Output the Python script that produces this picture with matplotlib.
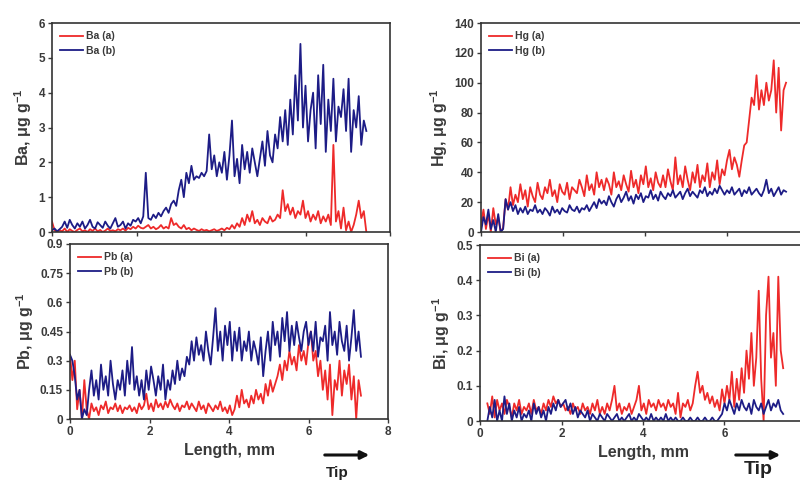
import numpy as np
import matplotlib
matplotlib.use("Agg")
import matplotlib.pyplot as plt

plt.rcParams['font.family'] = ['Liberation Sans', 'DejaVu Sans']
plt.rcParams['font.weight'] = 'bold'
plt.rcParams['axes.labelweight'] = 'bold'
plt.rcParams['mathtext.fontset'] = 'custom'
plt.rcParams['mathtext.rm'] = 'Liberation Sans:bold'
plt.rcParams['mathtext.it'] = 'Liberation Sans:bold'
plt.rcParams['mathtext.bf'] = 'Liberation Sans:bold'

nan = np.nan
# sampling positions along the sample, mm
length = np.round(np.arange(125) * 0.06, 2)

ba_a = [0.3, 0.05, 0.0, 0.05, 0.02, 0.1, 0.0, 0.08, 0.03, 0.0, 0.06, 0.1, 0.02, 0.05, 0.0, 0.08, 0.03, 0.1, 0.02, 0.06, 0.0, 0.04, 0.1, 0.03, 0.05,
        0.02, 0.08, 0.05, 0.1, 0.04, 0.12, 0.08, 0.15, 0.1, 0.18, 0.12, 0.1, 0.15, 0.2, 0.1, 0.15, 0.08, 0.12, 0.2, 0.1, 0.15, 0.1, 0.4, 0.2, 0.25,
        0.15, 0.1, 0.2, 0.08, 0.12, 0.05, 0.1, 0.06, 0.03, 0.08, 0.04, 0.06, 0.02, 0.05, 0.08, 0.03, 0.06, 0.1, 0.05, 0.12, 0.08, 0.2, 0.1, 0.25, 0.15,
        0.4, 0.2, 0.5, 0.3, 0.6, 0.25, 0.35, 0.2, 0.4, 0.3, 0.25, 0.45, 0.3, 0.35, 0.5, 0.4, 1.2, 0.6, 0.8, 0.5, 0.7, 0.4, 0.6, 0.5, 0.9,
        0.4, 0.6, 0.3, 0.5, 0.35, 0.6, 0.25, 0.45, 0.3, 0.5, 0.2, 2.5, 0.3, 0.6, 0.1, 0.7, 0.05, 0.3, 0.0, 0.2, 0.5, 0.9, 0.4, 0.6, 0.0]
ba_b = [0.05, 0.1, 0.02, 0.08, 0.15, 0.3, 0.12, 0.35, 0.2, 0.1, 0.25, 0.15, 0.3, 0.1, 0.2, 0.35, 0.15, 0.1, 0.28, 0.2, 0.12, 0.3, 0.18, 0.1, 0.25,
        0.4, 0.15, 0.2, 0.3, 0.1, 0.25, 0.18, 0.35, 0.3, 0.4, 0.25, 0.45, 1.7, 0.4, 0.35, 0.5, 0.4, 0.55, 0.45, 0.6, 0.7, 0.55, 0.8, 0.9, 0.75,
        1.2, 1.5, 1.0, 1.7, 1.4, 1.9, 1.5, 1.6, 1.55, 1.7, 1.6, 1.75, 2.8, 1.8, 2.2, 1.6, 2.0, 1.7, 2.3, 1.5, 2.2, 3.2, 1.6, 2.1, 1.4,
        2.5, 1.8, 2.3, 1.7, 2.4, 2.0, 1.6, 2.1, 2.6, 1.9, 2.9, 2.2, 2.0, 2.8, 2.4, 3.3, 2.6, 3.5, 2.5, 3.8, 2.8, 4.5, 3.2, 5.4, 3.0,
        4.2, 2.6, 3.5, 4.0, 2.4, 4.5, 3.1, 4.8, 2.3, 3.8, 2.9, 4.4, 2.6, 3.6, 3.3, 4.1, 2.9, 4.4, 2.3, 3.5, 3.0, 3.9, 2.5, 3.2, 2.9]

pb_a = [0.33, 0.2, 0.3, 0.05, 0.15, 0.0, 0.2, 0.05, 0.0, 0.08, 0.04, 0.06, 0.02, 0.07, 0.05, 0.09, 0.03, 0.06, 0.05, 0.08, 0.04, 0.07, 0.03, 0.06, 0.05,
        0.07, 0.04, 0.06, 0.03, 0.08, 0.05, 0.07, 0.13, 0.05, 0.08, 0.04, 0.1, 0.06, 0.08, 0.05, 0.09, 0.06, 0.1, 0.07, 0.05, 0.08, 0.04, 0.07, 0.06, 0.09,
        0.05, 0.08, 0.06, 0.04, 0.09, 0.05, 0.07, 0.03, 0.08, 0.06, 0.04, 0.07, 0.05, 0.09, 0.04, 0.06, 0.03, 0.07, 0.02, 0.05, 0.12, 0.06, 0.15, 0.08, 0.1,
        0.06, 0.12, 0.08, 0.15, 0.1, 0.13, 0.08, 0.18, 0.12, 0.2, 0.14, 0.18, 0.22, 0.28, 0.2, 0.3, 0.25, 0.35, 0.28, 0.32, 0.25, 0.38, 0.3, 0.35, 0.28,
        0.4, 0.45, 0.3, 0.35, 0.22, 0.3, 0.15, 0.25, 0.1, 0.28, 0.02, 0.2, 0.15, 0.3, 0.12, 0.25, 0.18, 0.28, 0.1, 0.22, 0.0, 0.2, 0.12, nan, nan]
pb_b = [0.33, 0.3, 0.22, 0.1, 0.15, 0.0, 0.05, 0.02, 0.15, 0.25, 0.12, 0.2, 0.1, 0.28, 0.15, 0.22, 0.12, 0.3, 0.18, 0.1, 0.2, 0.15, 0.25, 0.12, 0.3,
        0.18, 0.37, 0.15, 0.22, 0.12, 0.2, 0.1, 0.25, 0.15, 0.27, 0.2, 0.12, 0.22, 0.15, 0.28, 0.1, 0.2, 0.15, 0.25, 0.18, 0.3, 0.2, 0.26, 0.22, 0.32,
        0.28, 0.4, 0.3, 0.42, 0.33, 0.38, 0.3, 0.45, 0.35, 0.28, 0.42, 0.57, 0.35, 0.45, 0.3, 0.48, 0.38, 0.5, 0.3, 0.45, 0.35, 0.47, 0.3, 0.4, 0.35,
        0.45, 0.3, 0.4, 0.35, 0.28, 0.42, 0.22, 0.35, 0.45, 0.3, 0.5, 0.38, 0.45, 0.32, 0.52, 0.4, 0.55, 0.35, 0.48, 0.38, 0.5, 0.42, 0.35, 0.45, 0.5,
        0.38, 0.45, 0.35, 0.5, 0.32, 0.42, 0.4, 0.48, 0.3, 0.55, 0.38, 0.45, 0.33, 0.5, 0.4, 0.35, 0.48, 0.3, 0.42, 0.56, 0.35, 0.45, 0.32, nan, nan]

hg_a = [5, 15, 2, 12, 0, 16, 5, 10, 0, 3, 22, 15, 30, 18, 25, 20, 32, 22, 28, 17, 30, 24, 20, 33, 25,
        22, 30, 26, 35, 24, 28, 20, 32, 27, 25, 33, 22, 30, 28, 26, 35, 30, 24, 38, 28, 32, 25, 40, 30, 35,
        28, 36, 32, 25, 40, 30, 34, 28, 38, 32, 27, 41, 30, 35, 26, 38, 32, 44, 30, 36, 28, 40, 33, 30, 38,
        30, 42, 34, 28, 50, 32, 38, 30, 44, 35, 28, 40, 33, 45, 30, 38, 34, 46, 30, 40, 35, 48, 32, 42, 38,
        48, 55, 42, 50, 45, 37, 48, 58, 60, 75, 90, 85, 105, 82, 95, 85, 100, 88, 95, 115, 80, 110, 68, 95, 100]
hg_b = [0, 10, 5, 15, 2, 8, 0, 12, 0, 2, 22, 15, 20, 14, 18, 12, 16, 13, 17, 12, 15, 14, 18, 13, 15,
        12, 16, 14, 11, 17, 13, 15, 12, 16, 14, 13, 18, 15, 14, 17, 13, 16, 15, 18, 14, 17, 20, 16, 22, 19,
        21, 18, 24, 20, 17, 22, 25, 20, 23, 27, 21, 24, 19, 25, 22, 26, 20, 24, 23, 28, 22, 25, 21, 27, 24,
        22, 26, 24, 28, 23, 25, 27, 22, 26, 29, 24, 27, 25, 23, 28, 26, 30, 24, 27, 25, 29, 26, 31, 28, 25,
        28, 26, 30, 25, 27, 29, 24, 28, 26, 30, 25, 27, 29, 26, 24, 28, 35, 26, 29, 24, 27, 30, 25, 28, 27]

bi_a = [nan, nan, nan, 0.05, 0.02, 0.07, 0.01, 0.06, 0.03, 0.05, 0.02, 0.06, 0.04, 0.01, 0.05, 0.03, 0.06, 0.02, 0.04, 0.03, 0.05, 0.02, 0.06, 0.03, 0.04,
        0.02, 0.05, 0.03, 0.06, 0.04, 0.07, 0.05, 0.06, 0.04, 0.05, 0.03, 0.04, 0.02, 0.05, 0.03, 0.04, 0.02, 0.05, 0.03, 0.04, 0.02, 0.05, 0.03, 0.06, 0.02,
        0.04, 0.02, 0.05, 0.03, 0.06, 0.1, 0.03, 0.05, 0.02, 0.04, 0.03, 0.05, 0.02, 0.04, 0.06, 0.1, 0.03, 0.05, 0.02, 0.06, 0.04, 0.05, 0.03, 0.06, 0.04,
        0.05, 0.03, 0.06, 0.04, 0.05, 0.02, 0.08, 0.01, 0.05, 0.04, 0.06, 0.03, 0.05, 0.1, 0.14, 0.08, 0.1, 0.06, 0.08, 0.05, 0.07, 0.04, 0.06, 0.03, 0.09,
        0.05, 0.1, 0.06, 0.14, 0.04, 0.12, 0.06, 0.15, 0.08, 0.2, 0.12, 0.25, 0.1, 0.18, 0.37, 0.12, 0.0, 0.3, 0.41, 0.18, 0.25, 0.1, 0.41, 0.2, 0.15]
bi_b = [nan, nan, nan, 0.0, 0.04, 0.01, 0.06, 0.0, 0.03, 0.0, 0.07, 0.02, 0.05, 0.0, 0.03, 0.01, 0.04, 0.0, 0.02, 0.01, 0.03, 0.0, 0.05, 0.02, 0.04,
        0.01, 0.03, 0.0, 0.04, 0.02, 0.05, 0.03, 0.06, 0.04, 0.05, 0.06, 0.03, 0.05, 0.02, 0.04, 0.01, 0.03, 0.02, 0.01, 0.03, 0.0, 0.02, 0.01, 0.0, 0.02,
        0.01, 0.0, 0.02, 0.01, 0.0, 0.01, 0.02, 0.0, 0.01, 0.0, 0.01, 0.02, 0.0, 0.01, 0.0, 0.02, 0.01, 0.0, 0.01, 0.0, 0.02, 0.0, 0.01, 0.0, 0.01,
        0.0, 0.02, 0.0, 0.01, 0.0, 0.01, 0.0, 0.0, 0.01, 0.0, 0.0, 0.01, 0.0, 0.0, 0.01, 0.0, 0.0, 0.01, 0.0, 0.0, 0.01, 0.0, 0.0, 0.01, 0.02,
        0.05, 0.03, 0.06, 0.04, 0.02, 0.05, 0.03, 0.06, 0.04, 0.03, 0.05, 0.02, 0.06, 0.04, 0.03, 0.05, 0.02, 0.04, 0.06, 0.03, 0.05, 0.04, 0.06, 0.03, 0.02]

ba_ticks = [0, 1, 2, 3, 4, 5, 6]
pb_ticks = [0, 0.15, 0.3, 0.45, 0.6, 0.75, 0.9]
pb_labels = ['0', '0.15', '0.3', '0.45', '0.6', '0.75', '0.9']
hg_ticks = [0, 20, 40, 60, 80, 100, 120, 140]
bi_ticks = [0, 0.1, 0.2, 0.3, 0.4, 0.5]
bi_labels = ['0', '0.1', '0.2', '0.3', '0.4', '0.5']
x_ticks = [0, 2, 4, 6, 8]
x_labels_left = ['0', '2', '4', '6', '8']
x_labels_right = ['0', '2', '4', '6', '']

RED = '#ee2a2a'
NAVY = '#1d1c86'
TXT = '#3a3a3a'

W, H = 800, 482
fig = plt.figure(figsize=(8.0, 4.82), dpi=100)


def box(l, t, r, b):
    # pixel box -> figure fraction rect
    return [l / W, 1 - b / H, (r - l) / W, (b - t) / H]


panels = [
    # name, box, series a, series b, ylim, ticks, labels, x labels (None = top row)
    ('Ba', box(52, 23, 390, 232), ba_a, ba_b, 6, ba_ticks, None, None),
    ('Pb', box(70, 244, 388, 419), pb_a, pb_b, 0.9, pb_ticks, pb_labels, x_labels_left),
    ('Hg', box(481, 23, 809, 232), hg_a, hg_b, 140, hg_ticks, None, None),
    ('Bi', box(480, 245, 806, 421), bi_a, bi_b, 0.5, bi_ticks, bi_labels, x_labels_right),
]

for name, rect, ya, yb, ymax, yt, yl, xl in panels:
    ax = fig.add_axes(rect)
    ax.plot(length, ya, color=RED, lw=1.3, label=f'{name} (a)')
    ax.plot(length, yb, color=NAVY, lw=1.3, label=f'{name} (b)')
    ax.set_xlim(0, 8)
    ax.set_ylim(0, ymax)
    ax.set_xticks(x_ticks)
    ax.set_yticks(yt)
    if yl is not None:
        ax.set_yticklabels(yl)
    if xl is None:
        ax.set_xticklabels([])
    else:
        ax.set_xticklabels(xl)
        ax.set_xlabel('Length, mm', fontsize=11.5, color=TXT, labelpad=4)
    ax.set_ylabel(f'{name}, μg g$^{{-1}}$', fontsize=11.5, color=TXT, labelpad=3)
    ax.tick_params(direction='out', length=3, width=1, colors=TXT, labelsize=8.5, pad=2)
    for s in ax.spines.values():
        s.set_linewidth(1.2)
        s.set_color('#333333')
    leg = ax.legend(loc='upper left', frameon=False, fontsize=7.5, handlelength=2.2,
                    handletextpad=0.3, labelspacing=0.45, borderaxespad=0.4)
    for t in leg.get_texts():
        t.set_color(TXT)

# "Tip" arrows under the bottom panels
for x0, x1, xt, yt, fs in [(322, 372, 337, 466, 11), (733, 783, 758, 461, 14)]:
    fig.add_artist(matplotlib.patches.FancyArrowPatch(
        (x0 / W, 1 - 455 / H), (x1 / W, 1 - 455 / H), transform=fig.transFigure,
        arrowstyle='-|>', mutation_scale=12, lw=2.2, color='#111111'))
    fig.text(xt / W, 1 - yt / H, 'Tip', ha='center', va='top', fontsize=fs,
             fontweight='bold', color='#222222')

fig.savefig('out.png', dpi=100)
